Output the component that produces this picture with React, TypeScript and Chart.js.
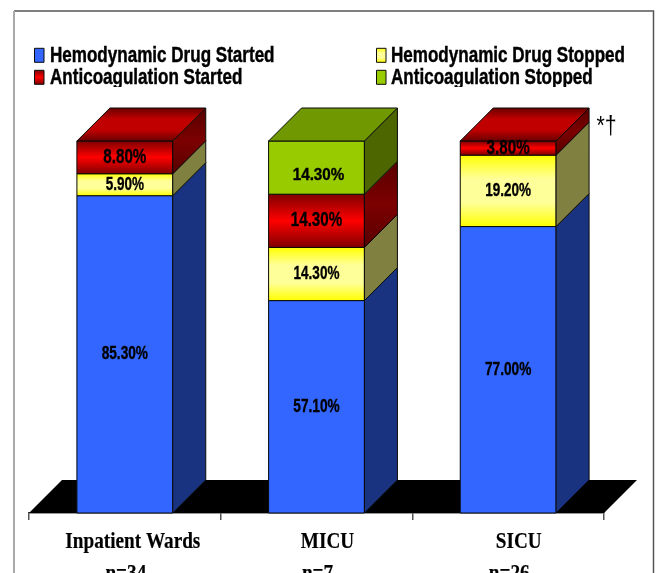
import React, { useEffect, useRef } from "react";
import { Chart, registerables } from "chart.js";

Chart.register(...registerables);

const categories = ["Inpatient Wards", "MICU", "SICU"];
const sampleSizes = ["n=34", "n=7", "n=26"];
const drugStarted = [85.3, 57.1, 77.0];
const drugStopped = [5.9, 14.3, 19.2];
const anticoagStarted = [8.8, 14.3, 3.8];
const anticoagStopped = [0, 14.3, 0];
const annotation = "*†";

const DX = 33;
const DY = 33;
const nameShift = [8, 11, 10.5];

type Look = {
  front: string;
  side: string[];
  top: string[];
  grad?: string[];
  font: number;
  sx: number;
  dx: number;
  dy: number;
};
const looks: Look[] = [
  { front: "#3366FF", side: ["#1A3380"], top: ["#1A3380"], font: 17.5, sx: 0.78, dx: 0, dy: 0 },
  { front: "#FFFF00", side: ["#808040"], top: ["#808000"], grad: ["#FFFF00", "#FFFF99", "#FFFF99", "#FFFF00"], font: 18, sx: 0.75, dx: 0, dy: 0 },
  { front: "#FF0000", side: ["#580000", "#7C0000", "#580000"], top: ["#6A0000", "#C00000", "#C00000", "#6A0000"], grad: ["#800000", "#FF0000", "#800000"], font: 20, sx: 0.76, dx: 0, dy: 0 },
  { front: "#99CC00", side: ["#4D6600"], top: ["#709800"], font: 16, sx: 0.95, dx: 2, dy: 7.5 },
];

function condensed(ctx: CanvasRenderingContext2D, text: string, x: number, y: number, sx: number, align: CanvasTextAlign = "center", weight = 0.35) {
  ctx.save();
  ctx.translate(x, y);
  ctx.scale(sx, 1);
  ctx.textAlign = align;
  ctx.fillText(text, 0, 0);
  if (weight > 0) {
    ctx.strokeStyle = ctx.fillStyle as string;
    ctx.lineWidth = weight;
    ctx.strokeText(text, 0, 0);
  }
  ctx.restore();
}

function poly(ctx: CanvasRenderingContext2D, pts: number[][], fill: string | CanvasGradient, stroke = true) {
  ctx.beginPath();
  pts.forEach((p, i) => (i ? ctx.lineTo(p[0], p[1]) : ctx.moveTo(p[0], p[1])));
  ctx.closePath();
  ctx.fillStyle = fill;
  ctx.fill();
  if (stroke) {
    ctx.strokeStyle = "#0A0A0A";
    ctx.lineWidth = 1;
    ctx.stroke();
  }
}

function vgrad(ctx: CanvasRenderingContext2D, y0: number, y1: number, cols: string[]) {
  const g = ctx.createLinearGradient(0, y0, 0, y1);
  cols.forEach((c, i) => g.addColorStop(cols.length === 1 ? 0 : i / (cols.length - 1), c));
  return g;
}

const box3d = {
  id: "box3d",
  beforeDraw(chart: any) {
    const { ctx } = chart;
    ctx.save();
    ctx.lineWidth = 1.5;
    ctx.strokeStyle = "#555";
    ctx.beginPath();
    ctx.moveTo(14, 11);
    ctx.lineTo(653.5, 11);
    ctx.lineTo(653.5, 573);
    ctx.stroke();
    ctx.strokeStyle = "#AAA";
    ctx.lineWidth = 2;
    ctx.beginPath();
    ctx.moveTo(14, 11);
    ctx.lineTo(14, 573);
    ctx.stroke();
    ctx.restore();
  },
  beforeDatasetsDraw(chart: any) {
    const { ctx, chartArea: a } = chart;
    poly(ctx, [[a.left, a.bottom], [a.right, a.bottom], [a.right + DX, a.bottom - DY], [a.left + DX, a.bottom - DY]], "#000", false);
  },
  afterDatasetsDraw(chart: any) {
    const { ctx } = chart;
    ctx.save();
    const n = chart.data.labels.length;
    for (let c = 0; c < n; c++) {
      let topMost: any = null;
      let topLook: Look | null = null;
      chart.data.datasets.forEach((ds: any, d: number) => {
        const el = chart.getDatasetMeta(d).data[c];
        const look = looks[d];
        if (!ds.data[c]) return;
        const l = el.x - el.width / 2;
        const r = el.x + el.width / 2;
        poly(ctx, [[l, el.y], [r, el.y], [r, el.base], [l, el.base]], look.grad ? vgrad(ctx, el.y, el.base, look.grad) : look.front);
        poly(ctx, [[r, el.y], [r + DX, el.y - DY], [r + DX, el.base - DY], [r, el.base]], vgrad(ctx, el.y - DY, el.base, look.side));
        topMost = { l, r, y: el.y };
        topLook = look;
      });
      if (topMost && topLook) {
        const t: any = topMost;
        poly(ctx, [[t.l, t.y], [t.r, t.y], [t.r + DX, t.y - DY], [t.l + DX, t.y - DY]], vgrad(ctx, t.y - DY, t.y, (topLook as Look).top));
      }
      // value labels
      chart.data.datasets.forEach((ds: any, d: number) => {
        const el = chart.getDatasetMeta(d).data[c];
        if (!ds.data[c]) return;
        const look = looks[d];
        ctx.fillStyle = "#000";
        ctx.font = `bold ${look.font}px "Liberation Sans"`;
        ctx.textBaseline = "middle";
        condensed(ctx, ds.data[c].toFixed(2) + "%", el.x + look.dx, (el.y + el.base) / 2 + look.dy, look.sx);
      });
    }
    ctx.restore();
  },
  afterDraw(chart: any) {
    const { ctx, scales } = chart;
    ctx.save();
    // category labels
    ctx.fillStyle = "#000";
    ctx.textBaseline = "alphabetic";
    ctx.font = 'bold 24px "Liberation Serif"';
    categories.forEach((c, i) => {
      const x = scales.x.getPixelForValue(i);
      condensed(ctx, c, x + nameShift[i], 548, 0.8, "center", 0.2);
      condensed(ctx, sampleSizes[i], x + 1, 580, 0.8, "center", 0.2);
    });
    // legend
    const cols = [34, 376];
    const rows = [62.3, 84.3];
    ctx.beginPath();
    ctx.rect(0, 0, 658, 87);
    ctx.clip();
    ctx.font = 'bold 22px "Liberation Sans"';
    ctx.textBaseline = "alphabetic";
    chart.data.datasets.forEach((ds: any, d: number) => {
      const x = cols[d % 2];
      const y = rows[d < 2 ? 0 : 1];
      const look = looks[d];
      poly(ctx, [[x + 0.5, y - 14], [x + 10, y - 14], [x + 10, y], [x + 0.5, y]], look.grad ? vgrad(ctx, y - 14, y, look.grad) : look.front);
      ctx.fillStyle = "#000";
      condensed(ctx, ds.label, x + 16 - (d % 2) * 1, y, 0.775, "left", 0.45);
    });
    ctx.restore();
    // annotation
    ctx.save();
    ctx.fillStyle = "#000";
    ctx.font = '26px "Liberation Sans"';
    ctx.textBaseline = "middle";
    condensed(ctx, annotation, 596.5, 127, 0.82, "left", 0);
    ctx.restore();
  },
};

export default function App() {
  const ref = useRef<HTMLCanvasElement>(null);
  useEffect(() => {
    const chart = new Chart(ref.current as HTMLCanvasElement, {
      type: "bar",
      data: {
        labels: categories,
        datasets: [
          { label: "Hemodynamic Drug Started", data: drugStarted, backgroundColor: looks[0].front, borderColor: "#000", borderWidth: 0 },
          { label: "Hemodynamic Drug Stopped", data: drugStopped, backgroundColor: looks[1].front, borderColor: "#000", borderWidth: 0 },
          { label: "Anticoagulation Started", data: anticoagStarted, backgroundColor: looks[2].front, borderColor: "#000", borderWidth: 0 },
          { label: "Anticoagulation Stopped", data: anticoagStopped, backgroundColor: looks[3].front, borderColor: "#000", borderWidth: 0 },
        ],
      },
      options: {
        animation: false,
        responsive: false,
        layout: { padding: { left: 29, right: 54, top: 141, bottom: 53 } },
        plugins: { legend: { display: false }, tooltip: { enabled: false } },
        datasets: { bar: { barPercentage: 0.5, categoryPercentage: 1 } },
        scales: {
          x: {
            stacked: true,
            ticks: { display: false },
            grid: { drawOnChartArea: false, color: "#555", tickLength: 7, lineWidth: 1.5 },
            border: { color: "#333", width: 1.5 },
          },
          y: { stacked: true, display: false, min: 0, max: 100 },
        },
      },
      plugins: [box3d],
    } as any);
    return () => chart.destroy();
  }, []);
  return (
    <div style={{ position: "fixed", left: 0, top: 0, width: 658, height: 573, overflow: "hidden", background: "#fff" }}>
      <canvas ref={ref} width={658} height={573} />
    </div>
  );
}
